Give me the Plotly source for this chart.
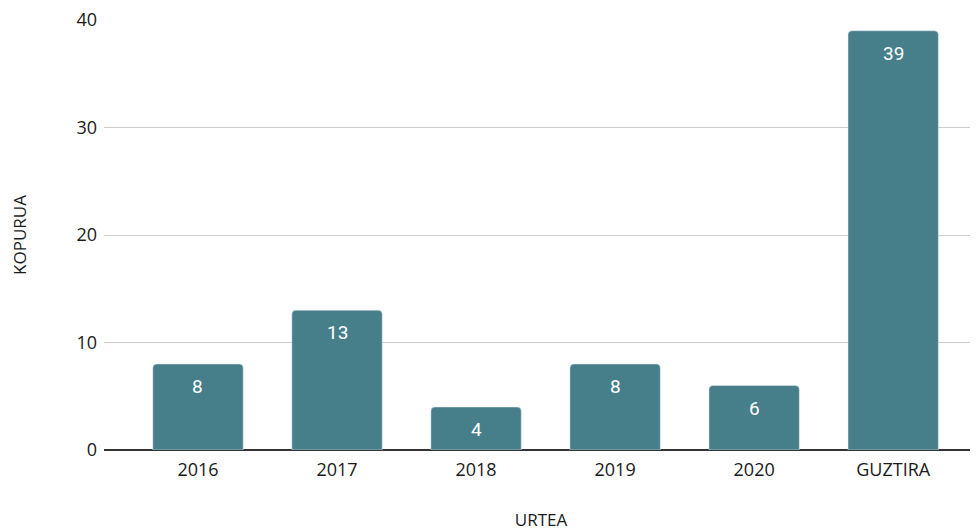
import plotly.graph_objects as go

urteak = ["2016", "2017", "2018", "2019", "2020", "GUZTIRA"]
kopurua = [8, 13, 4, 8, 6, 39]
y_ticks = [0, 10, 20, 30, 40]

fig = go.Figure(go.Bar(
    x=urteak,
    y=kopurua,
    marker=dict(color="#467f8a", cornerradius=4),
    width=0.65,
    hoverinfo="x+y",
))

# value labels sit a bit below the top of each bar
# (x given as category index, "2016" would be read as a number)
for i, k in enumerate(kopurua):
    fig.add_annotation(
        x=i, y=k, text=str(k), showarrow=False,
        yanchor="top", yshift=-9,
        font=dict(family="Roboto", color="white", size=19),
    )

fig.update_layout(
    width=978, height=532,
    margin=dict(l=96, r=8, t=12, b=90),
    paper_bgcolor="white", plot_bgcolor="white",
    font=dict(family="Open Sans", color="#1a1a1a"),
    showlegend=False,
)
fig.update_xaxes(
    type="category",
    range=[-0.676, 5.61],
    tickfont=dict(size=18),
    ticklabelstandoff=7,
    title=dict(text="URTEA", font=dict(size=17), standoff=34),
    showgrid=False,
    automargin=False,
)
fig.update_yaxes(
    range=[0, 40],
    tickvals=y_ticks,
    tickfont=dict(size=18),
    ticklabelstandoff=6,
    ticklabeloverflow="allow",
    title=dict(text="KOPURUA", font=dict(size=17), standoff=45),
    gridcolor="#cccccc",
    zeroline=True, zerolinecolor="#333333", zerolinewidth=1.5,
    automargin=False,
)

fig.write_html("out.html")
